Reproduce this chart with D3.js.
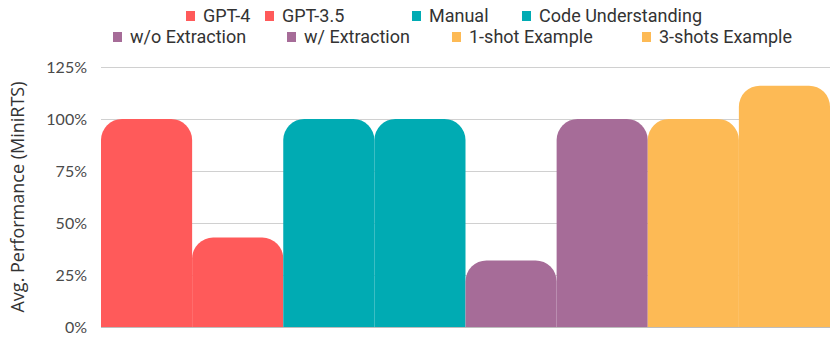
<!DOCTYPE html>
<html>
<head>
<meta charset="utf-8">
<script src="https://cdn.jsdelivr.net/npm/d3@7"></script>
<style>
  body { margin: 0; background: #fff; }
  svg { display: block; }
</style>
</head>
<body>
<div id="chart"></div>
<script>
// values
var categories = ["GPT-4", "GPT-3.5", "Manual", "Code Understanding",
                  "w/o Extraction", "w/ Extraction", "1-shot Example", "3-shots Example"];
var values = [100, 43, 100, 100, 32, 100, 100, 116];
var colors = ["#FF5A5A", "#FF5A5A", "#00ABB3", "#00ABB3", "#A66C98", "#A66C98", "#FDBA55", "#FDBA55"];
var yTicks = [0, 25, 50, 75, 100, 125];

var width = 831,
    height = 349,
    margin = {top: 67, right: 1, bottom: 22, left: 101};

var svg = d3.select("#chart")
    .append("svg")
    .attr("width", width)
    .attr("height", height);

var x = d3.scaleBand()
    .domain(categories)
    .range([margin.left, width - margin.right])
    .padding(0);

var y = d3.scaleLinear()
    .domain([0, 125])
    .range([height - margin.bottom, margin.top]);

// gridlines
svg.append("g")
    .selectAll("line")
    .data(yTicks)
    .enter().append("line")
    .attr("x1", margin.left)
    .attr("x2", width - margin.right)
    .attr("y1", function (d) { return Math.round(y(d)) + 0.5; })
    .attr("y2", function (d) { return Math.round(y(d)) + 0.5; })
    .attr("stroke", function (d) { return d === 0 ? "#bdbdbd" : "#d0d0d0"; })
    .attr("stroke-width", 1.2);

// tick labels
svg.append("g")
    .selectAll("text")
    .data(yTicks)
    .enter().append("text")
    .attr("x", 87)
    .attr("y", function (d) { return y(d); })
    .attr("dy", "0.35em")
    .attr("text-anchor", "end")
    .style("font-family", "Lato, 'Open Sans', sans-serif")
    .style("font-size", "16px")
    .style("fill", "#4a4a4a")
    .text(function (d) { return d + "%"; });

// y label
svg.append("text")
    .attr("transform", "translate(24," + (y(0) + y(125)) / 2 + ") rotate(-90)")
    .attr("text-anchor", "middle")
    .style("font-family", "'Open Sans', sans-serif")
    .style("font-size", "18px")
    .style("fill", "#333")
    .text("Avg. Performance (MiniRTS)");

// bar with rounded top corners
function topRounded(x0, y0, w, h, r) {
    r = Math.min(r, h, w / 2);
    return "M" + x0 + "," + (y0 + h) +
        "V" + (y0 + r) +
        "A" + r + "," + r + " 0 0 1 " + (x0 + r) + "," + y0 +
        "H" + (x0 + w - r) +
        "A" + r + "," + r + " 0 0 1 " + (x0 + w) + "," + (y0 + r) +
        "V" + (y0 + h) + "Z";
}

svg.append("g")
    .selectAll("path")
    .data(values)
    .enter().append("path")
    .attr("d", function (d, i) {
        var top = y(d);
        return topRounded(x(categories[i]), top, x.bandwidth(), y(0) - top, 21);
    })
    .attr("fill", function (d, i) { return colors[i]; });

// legend, two rows
var legendX = [186, 265, 412, 522, 113, 287, 452, 642];
var legendRow = [0, 0, 0, 0, 1, 1, 1, 1];

var lg = svg.append("g")
    .selectAll("g")
    .data(categories)
    .enter().append("g")
    .attr("transform", function (d, i) {
        return "translate(" + legendX[i] + "," + (16 + legendRow[i] * 21) + ")";
    });

lg.append("rect")
    .attr("x", 0)
    .attr("y", -5)
    .attr("width", 9)
    .attr("height", 10)
    .attr("fill", function (d, i) { return colors[i]; });

lg.append("text")
    .attr("x", 17)
    .attr("dy", "0.35em")
    .style("font-family", "Roboto, sans-serif")
    .style("font-size", "18px")
    .style("fill", "#333")
    .text(function (d) { return d; });
</script>
</body>
</html>
